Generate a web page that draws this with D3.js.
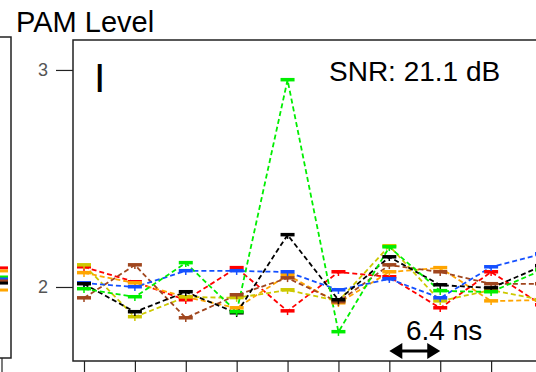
<!DOCTYPE html>
<html>
<head>
<meta charset="utf-8">
<script src="https://cdn.jsdelivr.net/npm/d3@7"></script>
<style>
  body { margin: 0; background: #fff; }
  text { font-family: "Liberation Sans", Arial, sans-serif; }
</style>
</head>
<body>
<script>
// sample index along the time axis (one symbol every 6.4 ns)
var samples = [0, 1, 2, 3, 4, 5, 6, 7, 8, 9];
var yTicks = [2, 3];

// PAM level read at each sample, one array per trace
var red    = [2.092, 2.023, 1.940, 2.088, 1.889, 2.069, 2.046, 1.903, 2.069, 1.917];
var orange = [2.065, 2.018, 1.954, 1.903, 2.055, 1.926, 2.069, 2.088, 1.935, 1.940];
var yellow = [2.101, 1.862, 1.954, 1.950, 1.986, 1.935, 2.189, 1.935, 1.986, 1.940];
var green  = [1.991, 1.954, 2.111, 1.885, 2.954, 1.793, 2.184, 1.982, 1.977, 2.078];
var blue   = [2.018, 2.000, 2.074, 2.074, 2.069, 1.986, 2.037, 1.949, 2.092, 2.152];
var black  = [2.014, 1.885, 1.977, 1.880, 2.240, 1.940, 2.138, 2.009, 1.995, 2.097];
var brown  = [1.949, 2.101, 1.857, 1.963, 2.041, 1.931, 2.101, 2.069, 2.014, 2.014];

// last values of the neighbouring (cut off) panel on the left
var leftLevels = [2.088, 2.074, 2.046, 2.037, 2.028, 2.018, 1.986];
var leftColors = ["#ff0000", "#ffa500", "#00ee00", "#1450ff", "#a0461e", "#000000", "#ffa500"];

var traces = [
  { name: "red",    color: "#ff0000", values: red },
  { name: "orange", color: "#ffa500", values: orange },
  { name: "yellow", color: "#cdc800", values: yellow },
  { name: "brown",  color: "#a0461e", values: brown },
  { name: "blue",   color: "#1450ff", values: blue },
  { name: "black",  color: "#000000", values: black },
  { name: "green",  color: "#00ee00", values: green }
];

var svgWidth = 536, svgHeight = 372;
var frameLeft = 73, frameTop = 40, frameBottom = 361; // frame of the main panel

var svg = d3.select("body").append("svg")
    .attr("width", svgWidth)
    .attr("height", svgHeight);

var x = d3.scaleLinear().domain([0, 9]).range([84, 542]);
var y = d3.scaleLinear().domain([1.659, 3.138]).range([frameBottom, frameTop]);

// frame of the left (cut off) panel
svg.append("path")
    .attr("d", "M0,37 H11 V358 H0")
    .attr("fill", "none").attr("stroke", "#222").attr("stroke-width", 1.5);
svg.append("line")
    .attr("x1", 2).attr("x2", 2).attr("y1", 358).attr("y2", 372)
    .attr("stroke", "#222").attr("stroke-width", 1.2);

// level marks of the left panel
svg.selectAll(".leftMark").data(leftLevels).enter().append("rect")
    .attr("class", "leftMark")
    .attr("x", 0).attr("width", 8)
    .attr("y", function(d) { return y(d) - 1.5; })
    .attr("height", 3)
    .attr("fill", function(d, i) { return leftColors[i]; });

// frame of the main panel
svg.append("path")
    .attr("d", "M" + svgWidth + "," + frameTop + " H" + frameLeft + " V" + frameBottom + " H" + svgWidth)
    .attr("fill", "none").attr("stroke", "#222").attr("stroke-width", 1.5);

// x ticks (no labels)
var xAxis = svg.append("g")
    .attr("transform", "translate(0," + frameBottom + ")")
    .call(d3.axisBottom(x).tickValues(samples).tickSize(11).tickFormat(""));
xAxis.select(".domain").remove();
xAxis.selectAll("line").attr("stroke", "#222").attr("stroke-width", 1.2);

// y ticks
var yAxis = svg.append("g")
    .attr("transform", "translate(" + frameLeft + ",0)")
    .call(d3.axisLeft(y).tickValues(yTicks).tickSize(17).tickPadding(8).tickFormat(d3.format("d")));
yAxis.select(".domain").remove();
yAxis.selectAll("line").attr("stroke", "#222").attr("stroke-width", 1.2);
yAxis.selectAll("text")
    .attr("fill", "#555")
    .style("font-size", "18px")
    .style("font-family", "'Liberation Sans Narrow', 'Liberation Sans', Arial, sans-serif");

var plot = svg.append("g");

var line = d3.line()
    .x(function(d, i) { return x(i); })
    .y(function(d) { return y(d); });

// dashed traces
plot.selectAll(".trace").data(traces).enter().append("path")
    .attr("class", "trace")
    .attr("d", function(d) { return line(d.values); })
    .attr("fill", "none")
    .attr("stroke", function(d) { return d.color; })
    .attr("stroke-width", 1.8)
    .attr("stroke-dasharray", "5,3");

// level marks at every sample
traces.forEach(function(t) {
  var g = plot.append("g");
  g.selectAll("rect").data(t.values).enter().append("rect")
      .attr("x", function(d, i) { return x(i) - 7; })
      .attr("y", function(d) { return y(d) - 2; })
      .attr("width", 14)
      .attr("height", 3.5)
      .attr("fill", t.color);
  g.selectAll("line").data(t.values).enter().append("line")
      .attr("x1", function(d, i) { return x(i); })
      .attr("x2", function(d, i) { return x(i); })
      .attr("y1", function(d) { return y(d); })
      .attr("y2", function(d) { return y(d) + 4; })
      .attr("stroke", t.color).attr("stroke-width", 1.5);
});

// labels
svg.append("text").attr("x", 16).attr("y", 32)
    .style("font-size", "29px").text("PAM Level");
svg.append("text").attr("x", 94).attr("y", 92)
    .style("font-size", "41px").text("I");
svg.append("text").attr("x", 329).attr("y", 81)
    .style("font-size", "28px").text("SNR: 21.1 dB");
svg.append("text").attr("x", 406).attr("y", 340)
    .style("font-size", "28px").text("6.4 ns");

// double arrow showing one symbol period
var ax1 = x(6), ax2 = x(7), ay = 351;
svg.append("line")
    .attr("x1", ax1 + 10).attr("x2", ax2 - 10).attr("y1", ay).attr("y2", ay)
    .attr("stroke", "#000").attr("stroke-width", 3);
svg.append("path")
    .attr("d", "M" + ax1 + "," + ay + " l13,-8 v16 z")
    .attr("fill", "#000");
svg.append("path")
    .attr("d", "M" + ax2 + "," + ay + " l-13,-8 v16 z")
    .attr("fill", "#000");
</script>
</body>
</html>
